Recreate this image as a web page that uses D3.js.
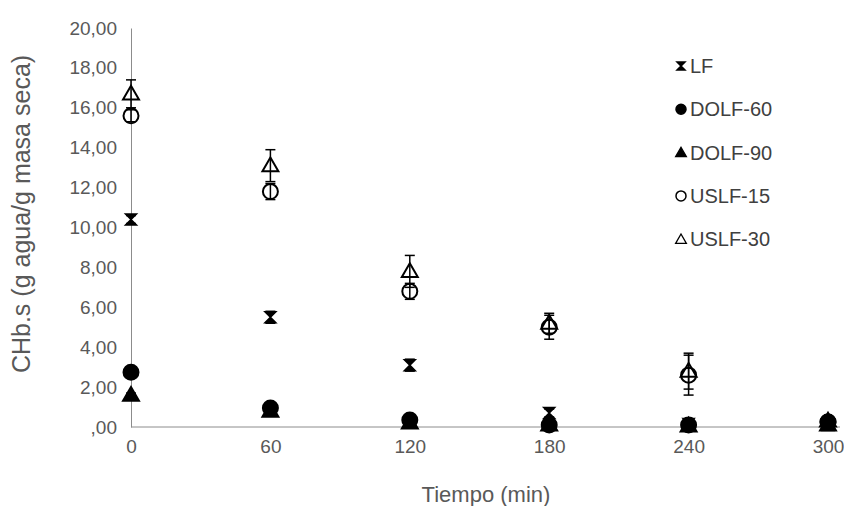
<!DOCTYPE html>
<html>
<head>
<meta charset="utf-8">
<script src="https://cdn.jsdelivr.net/npm/d3@7"></script>
<style>
  body { margin: 0; background: #fff; }
  text { font-family: "Liberation Sans", Arial, sans-serif; }
</style>
</head>
<body>
<div id="chart"></div>
<script>
// data
var times = [0, 60, 120, 180, 240, 300];
var yTicks = [0, 2, 4, 6, 8, 10, 12, 14, 16, 18, 20];
var seriesNames = ["LF", "DOLF-60", "DOLF-90", "USLF-15", "USLF-30"];
var lf      = [10.4, 5.5, 3.1, 0.7, 0.15, 0.1];
var dolf60  = [2.75, 0.95, 0.35, 0.1, 0.1, 0.25];
var dolf90  = [1.6, 0.8, 0.2, 0.1, 0.05, 0.1];
var uslf15  = [15.6, 11.8, 6.8, 5.0, 2.6, 0.25];
var uslf30  = [16.7, 13.1, 7.8, 5.2, 2.8, 0.3];
var lfErr     = [0.2, 0.3, 0.3, 0.2, 0.1, 0.05];
var dolf60Err = [0.1, 0.1, 0.05, 0.05, 0.05, 0.05];
var dolf90Err = [0.1, 0.1, 0.05, 0.05, 0.05, 0.05];
var uslf15Err = [0.3, 0.4, 0.4, 0.6, 1.0, 0.05];
var uslf30Err = [0.7, 0.8, 0.8, 0.5, 0.9, 0.05];

var margin = {top: 28, right: 16, bottom: 79, left: 131},
    width = 828 - margin.left,
    height = 427 - margin.top;

var svg = d3.select("#chart").append("svg")
    .attr("width", 844)
    .attr("height", 506)
  .append("g")
    .attr("transform", "translate(" + margin.left + "," + margin.top + ")");

var x = d3.scaleLinear().domain([0, 300]).range([0, width]);
var y = d3.scaleLinear().domain([0, 20]).range([height, 0]);

var fmt = function(d) { return d === 0 ? ",00" : d3.format(".2f")(d).replace(".", ","); };

// axes
var yAxis = svg.append("g")
    .call(d3.axisLeft(y).tickValues(yTicks).tickFormat(fmt).tickSize(0).tickPadding(14));
yAxis.select(".domain").attr("stroke", "#8c8c8c");
yAxis.selectAll("text").attr("fill", "#595959").style("font-size", "19px");

var xAxis = svg.append("g")
    .attr("transform", "translate(0," + height + ")")
    .call(d3.axisBottom(x).tickValues(times).tickSize(0).tickPadding(13));
xAxis.select(".domain").remove();
xAxis.append("line")
    .attr("x1", 0).attr("x2", width + 12)
    .attr("stroke", "#8c8c8c");
xAxis.selectAll("text").attr("fill", "#595959").style("font-size", "19px");

// axis titles
svg.append("text")
    .attr("x", 486 - margin.left)
    .attr("y", 502 - margin.top)
    .attr("text-anchor", "middle")
    .attr("fill", "#595959")
    .style("font-size", "22px")
    .text("Tiempo (min)");

svg.append("text")
    .attr("transform", "rotate(-90)")
    .attr("x", -(214 - margin.top))
    .attr("y", 30 - margin.left)
    .attr("text-anchor", "middle")
    .attr("fill", "#595959")
    .style("font-size", "25px")
    .text("CHb.s (g agua/g masa seca)");

// marker shapes
function hourglass(s) {
  return "M" + (-s) + "," + (-s) + "H" + s + "L" + (-s) + "," + s + "H" + s + "Z";
}
var triSym = d3.symbol().type(d3.symbolTriangle);

var series = [
  {name: seriesNames[0], vals: lf, err: lfErr, shape: "hour", fill: "#000"},
  {name: seriesNames[1], vals: dolf60, err: dolf60Err, shape: "circle", fill: "#000"},
  {name: seriesNames[2], vals: dolf90, err: dolf90Err, shape: "tri", fill: "#000"},
  {name: seriesNames[3], vals: uslf15, err: uslf15Err, shape: "circle", fill: "none"},
  {name: seriesNames[4], vals: uslf30, err: uslf30Err, shape: "tri", fill: "none"}
];

function drawMarker(g, shape, fill, big) {
  if (shape === "circle") {
    g.append("circle").attr("r", big ? 7.5 : 5)
      .attr("fill", fill === "none" ? "#fff" : fill)
      .attr("fill-opacity", fill === "none" ? 0 : 1)
      .attr("stroke", "#000").attr("stroke-width", big ? 2 : 1.5);
  } else if (shape === "tri") {
    g.append("path").attr("d", triSym.size(big ? 110 : 50)())
      .attr("transform", "translate(0,1)")
      .attr("fill", fill === "none" ? "none" : fill)
      .attr("stroke", "#000").attr("stroke-width", big ? 2 : 1.3);
  } else {
    g.append("path").attr("d", hourglass(big ? 5.5 : 4))
      .attr("fill", "#000").attr("stroke", "#000").attr("stroke-width", 1.5);
  }
}

series.forEach(function(s) {
  var grp = svg.append("g");
  s.vals.forEach(function(v, i) {
    var cx = x(times[i]);
    var e = s.err[i];
    var eb = grp.append("g").attr("stroke", "#000").attr("stroke-width", 1.5);
    eb.append("line").attr("x1", cx).attr("x2", cx).attr("y1", y(v + e)).attr("y2", y(Math.max(0, v - e)));
    eb.append("line").attr("x1", cx - 5).attr("x2", cx + 5).attr("y1", y(v + e)).attr("y2", y(v + e));
    eb.append("line").attr("x1", cx - 5).attr("x2", cx + 5).attr("y1", y(Math.max(0, v - e))).attr("y2", y(Math.max(0, v - e)));
    var m = grp.append("g").attr("transform", "translate(" + cx + "," + y(v) + ")");
    drawMarker(m, s.shape, s.fill, true);
  });
});

// legend
var legend = svg.append("g").attr("transform", "translate(" + (681 - margin.left) + "," + (66 - margin.top) + ")");
series.forEach(function(s, i) {
  var row = legend.append("g").attr("transform", "translate(0," + (i * 43.3) + ")");
  drawMarker(row, s.shape, s.fill, false);
  row.append("text")
    .attr("x", 9)
    .attr("y", 7)
    .attr("fill", "#404040")
    .style("font-size", "20px")
    .text(s.name);
});
</script>
</body>
</html>
